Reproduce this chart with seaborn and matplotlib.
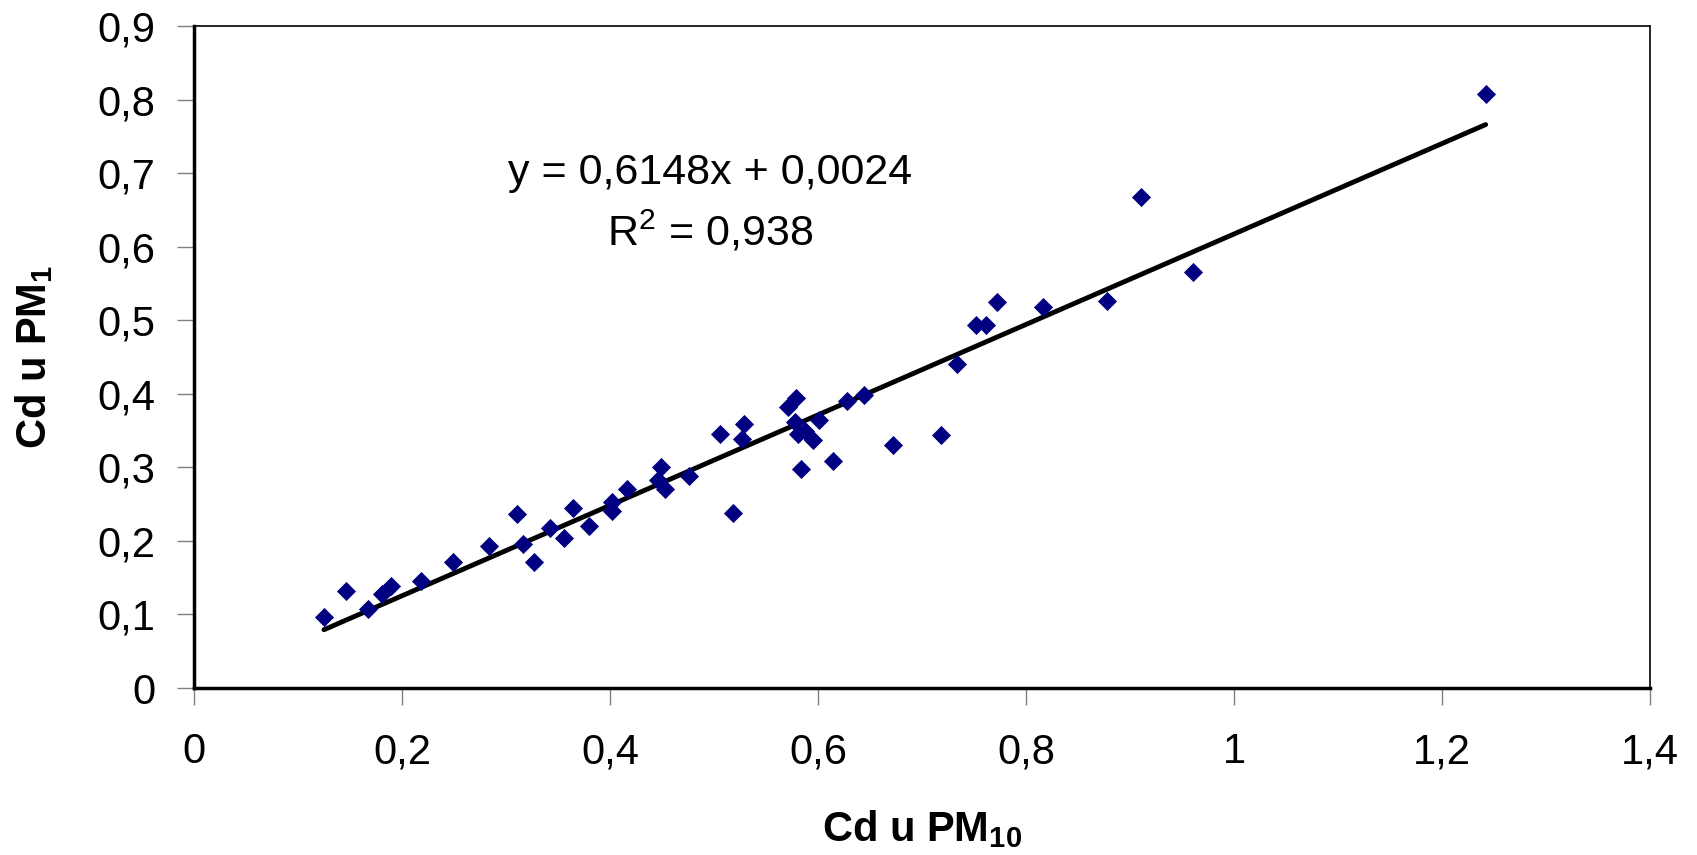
import numpy as np
import pandas as pd
import matplotlib
matplotlib.use("Agg")
import matplotlib.pyplot as plt
import seaborn as sns

# Cd u PM10 (x) i Cd u PM1 (y)
pm10 = [0.125, 0.146, 0.167, 0.181, 0.189, 0.218, 0.249, 0.284, 0.311, 0.316,
        0.327, 0.342, 0.356, 0.364, 0.380, 0.402, 0.402, 0.416, 0.449, 0.446,
        0.453, 0.476, 0.506, 0.518, 0.527, 0.529, 0.571, 0.579, 0.578, 0.581,
        0.584, 0.588, 0.595, 0.601, 0.614, 0.628, 0.644, 0.672, 0.718, 0.734,
        0.752, 0.762, 0.772, 0.816, 0.878, 0.911, 0.961, 1.242]
pm1 = [0.096, 0.132, 0.107, 0.128, 0.139, 0.146, 0.171, 0.193, 0.236, 0.196,
       0.171, 0.217, 0.204, 0.245, 0.220, 0.253, 0.241, 0.271, 0.301, 0.283,
       0.271, 0.288, 0.345, 0.238, 0.338, 0.359, 0.382, 0.394, 0.362, 0.346,
       0.298, 0.350, 0.337, 0.365, 0.308, 0.390, 0.398, 0.330, 0.344, 0.440,
       0.493, 0.493, 0.525, 0.518, 0.526, 0.668, 0.565, 0.807]

slope = 0.6148
intercept = 0.0024
r2_text = "0,938"

xticks = [0, 0.2, 0.4, 0.6, 0.8, 1.0, 1.2, 1.4]
xtick_labels = ["0", "0,2", "0,4", "0,6", "0,8", "1", "1,2", "1,4"]
yticks = [0, 0.1, 0.2, 0.3, 0.4, 0.5, 0.6, 0.7, 0.8, 0.9]
ytick_labels = ["0", "0,1", "0,2", "0,3", "0,4", "0,5", "0,6", "0,7", "0,8", "0,9"]

df = pd.DataFrame({"x": pm10, "y": pm1})

sns.set_style("white")
plt.rcParams['font.family'] = ['Liberation Sans', 'DejaVu Sans']
plt.rcParams['mathtext.fontset'] = 'custom'
plt.rcParams['mathtext.rm'] = 'Liberation Sans'
plt.rcParams['mathtext.bf'] = 'Liberation Sans:bold'
plt.rcParams['text.color'] = 'black'
plt.rcParams['axes.labelcolor'] = 'black'
plt.rcParams['xtick.labelcolor'] = 'black'
plt.rcParams['ytick.labelcolor'] = 'black'

fig = plt.figure(figsize=(16.97, 8.55), dpi=100)
ax = fig.add_axes([0.1143, 0.1953, 0.8580, 0.7743])

sns.scatterplot(data=df, x="x", y="y", marker="D", s=95, color="#000080",
                linewidth=0, ax=ax, zorder=3)

# linija trenda
xl = np.array([min(pm10), max(pm10)])
ax.plot(xl, slope * xl + intercept, color="black", lw=3.5, zorder=2,
        solid_capstyle="round")

ax.text(0.496, 0.700, "y = 0,6148x + 0,0024", fontsize=31, ha="center", va="center")
ax.text(0.496, 0.620, "R$^2$ = " + r2_text, fontsize=31, ha="center", va="center")

ax.set_xlim(0, 1.4)
ax.set_ylim(0, 0.9)
ax.set_xticks(xticks)
ax.set_xticklabels(xtick_labels, fontsize=30)
ax.set_yticks(yticks)
ax.set_yticklabels(ytick_labels, fontsize=30)
ax.tick_params(axis="x", direction="out", length=12, width=1, color="#808080",
               labelcolor="black", pad=20, bottom=True)
ax.tick_params(axis="y", direction="out", length=12, width=1, color="#808080",
               labelcolor="black", pad=16, left=True)

for side in ["left", "bottom"]:
    ax.spines[side].set_linewidth(2.5)
    ax.spines[side].set_color("black")
for side in ["top", "right"]:
    ax.spines[side].set_linewidth(1.2)
    ax.spines[side].set_color("black")

ax.set_xlabel(r"Cd u PM$_\mathbf{10}$", fontsize=30, fontweight="bold", labelpad=26)
ax.set_ylabel(r"Cd u PM$_\mathbf{1}$", fontsize=30, fontweight="bold", labelpad=30)

fig.savefig("out.png", dpi=100)
